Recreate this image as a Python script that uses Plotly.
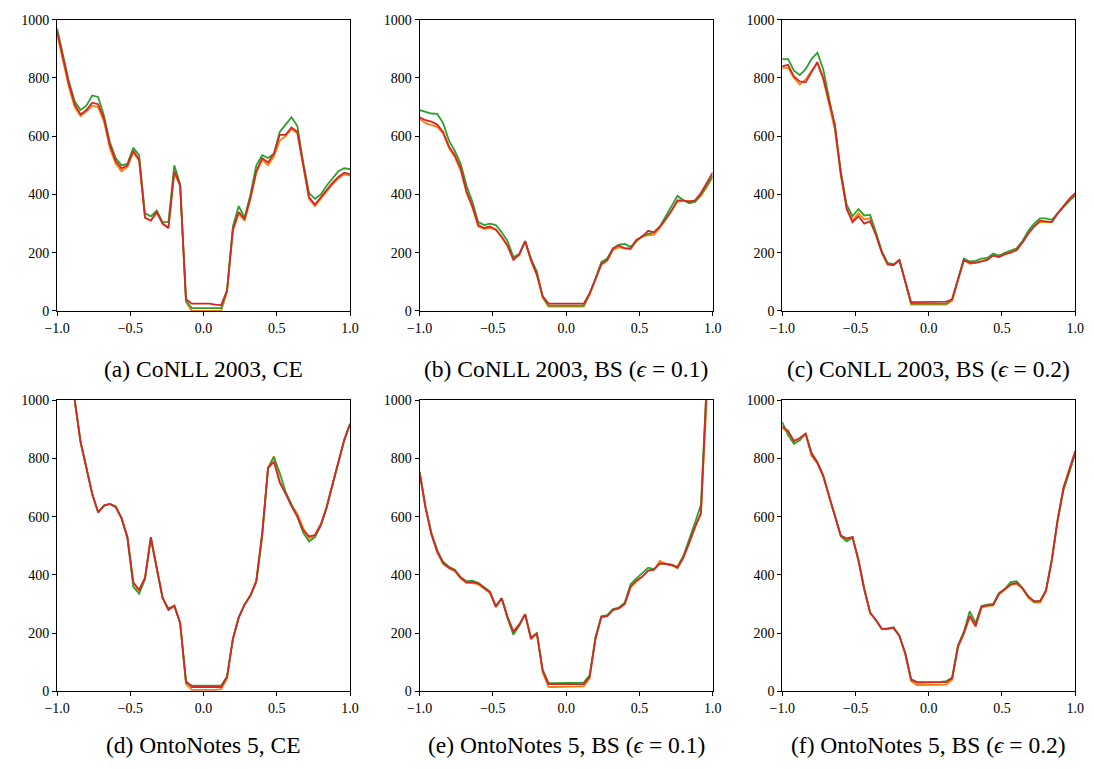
import plotly.graph_objects as go

x_vals = [round(-1 + 0.04 * i, 2) for i in range(51)]

# Panel (a) CoNLL 2003, CE
a_orange = [950, 860, 770, 700, 670, 685, 705, 700, 650, 560, 505, 480, 495, 545, 515, 320, 310, 338, 300, 285, 475, 430, 30, 0, 0, 0, 0, 0, 0, 65, 275, 335, 310, 385, 475, 520, 500, 530, 585, 600, 625, 610, 495, 385, 360, 385, 410, 435, 455, 470, 465]
a_green = [970, 880, 790, 720, 690, 705, 740, 735, 670, 580, 525, 500, 505, 560, 535, 335, 325, 345, 305, 305, 500, 435, 35, 10, 10, 10, 10, 10, 10, 70, 290, 360, 320, 400, 500, 535, 525, 540, 615, 640, 665, 635, 510, 405, 385, 400, 430, 455, 480, 490, 487]
a_red = [960, 870, 780, 710, 675, 690, 715, 710, 660, 570, 515, 490, 500, 550, 520, 320, 310, 340, 300, 285, 480, 430, 40, 25, 25, 25, 25, 22, 20, 70, 280, 340, 315, 390, 480, 525, 510, 540, 605, 605, 630, 615, 500, 390, 365, 390, 415, 440, 460, 475, 470]

# Panel (b) CoNLL 2003, BS (eps = 0.1)
b_orange = [660, 645, 638, 632, 610, 560, 528, 482, 405, 355, 290, 282, 285, 278, 253, 222, 178, 192, 238, 172, 125, 45, 15, 15, 15, 15, 15, 15, 15, 55, 108, 160, 172, 210, 218, 215, 212, 240, 255, 260, 262, 285, 315, 345, 375, 378, 378, 375, 395, 425, 460]
b_green = [690, 685, 678, 677, 645, 585, 550, 505, 430, 375, 305, 295, 300, 295, 270, 240, 185, 195, 240, 180, 135, 50, 18, 18, 18, 18, 18, 18, 18, 60, 110, 168, 180, 215, 228, 230, 220, 240, 258, 265, 270, 290, 325, 360, 395, 380, 370, 375, 400, 430, 465]
b_red = [665, 655, 650, 640, 615, 565, 535, 490, 410, 360, 295, 285, 290, 280, 255, 225, 175, 195, 240, 175, 125, 50, 25, 25, 25, 25, 25, 25, 25, 60, 110, 160, 175, 215, 225, 215, 215, 245, 255, 275, 270, 290, 315, 345, 380, 380, 375, 380, 405, 440, 475]

# Panel (c) CoNLL 2003, BS (eps = 0.2)
c_orange = [835, 835, 800, 778, 795, 825, 850, 795, 710, 620, 465, 355, 310, 335, 315, 318, 262, 200, 160, 158, 175, 98, 22, 22, 22, 22, 22, 22, 22, 35, 108, 175, 162, 165, 170, 176, 192, 185, 195, 202, 208, 235, 268, 292, 305, 305, 305, 335, 358, 380, 400]
c_green = [865, 865, 825, 810, 830, 865, 887, 830, 730, 630, 480, 365, 325, 350, 328, 330, 270, 205, 165, 160, 175, 100, 25, 25, 25, 25, 25, 25, 25, 40, 110, 180, 170, 172, 180, 182, 197, 190, 200, 208, 215, 240, 275, 300, 318, 318, 313, 335, 358, 378, 395]
c_red = [840, 845, 805, 788, 785, 820, 855, 800, 720, 640, 470, 350, 305, 325, 300, 308, 260, 200, 160, 158, 175, 100, 30, 30, 30, 30, 30, 31, 32, 40, 110, 175, 165, 165, 170, 175, 190, 185, 195, 200, 210, 235, 265, 290, 310, 308, 305, 335, 360, 385, 405]

# Panel (d) OntoNotes 5, CE
d_orange = [1250, 1170, 1090, 1000, 857, 762, 678, 615, 638, 644, 633, 594, 530, 372, 345, 390, 530, 425, 322, 280, 294, 235, 25, 5, 5, 5, 5, 5, 8, 45, 180, 254, 298, 330, 380, 543, 768, 808, 722, 680, 640, 610, 560, 525, 535, 573, 633, 711, 784, 863, 919]
d_green = [1250, 1170, 1090, 1000, 857, 762, 678, 615, 638, 644, 636, 596, 525, 360, 335, 385, 525, 420, 320, 285, 294, 235, 30, 20, 20, 21, 20, 20, 20, 50, 180, 254, 298, 328, 375, 530, 765, 805, 750, 685, 640, 600, 545, 515, 530, 568, 630, 711, 784, 863, 919]
d_red = [1250, 1170, 1090, 1000, 857, 762, 678, 615, 638, 644, 633, 594, 530, 375, 349, 390, 530, 425, 322, 280, 294, 235, 35, 15, 15, 15, 15, 15, 15, 50, 180, 254, 298, 330, 380, 543, 768, 788, 717, 678, 636, 600, 554, 532, 537, 573, 633, 711, 784, 863, 919]

# Panel (e) OntoNotes 5, BS (eps = 0.1)
e_orange = [750, 630, 540, 478, 438, 423, 413, 388, 372, 372, 368, 353, 338, 290, 320, 255, 205, 228, 265, 180, 200, 65, 15, 15, 15, 15, 15, 15, 17, 45, 180, 255, 258, 280, 285, 300, 358, 378, 393, 415, 418, 448, 438, 433, 423, 458, 508, 563, 615, 960, 1400]
e_green = [755, 635, 545, 485, 445, 428, 418, 392, 378, 380, 373, 358, 343, 295, 320, 250, 195, 225, 265, 185, 200, 75, 28, 28, 28, 28, 28, 28, 30, 55, 185, 258, 262, 283, 288, 305, 368, 388, 405, 425, 420, 438, 438, 433, 428, 465, 520, 580, 640, 1000, 1500]
e_red = [750, 630, 540, 480, 440, 425, 415, 390, 375, 375, 370, 355, 340, 290, 320, 255, 205, 230, 265, 180, 200, 70, 25, 25, 25, 25, 25, 25, 25, 50, 180, 255, 258, 280, 285, 300, 360, 380, 395, 415, 418, 440, 438, 435, 425, 460, 510, 565, 610, 950, 1500]

# Panel (f) OntoNotes 5, BS (eps = 0.2)
f_orange = [905, 890, 860, 868, 885, 810, 783, 738, 668, 598, 535, 522, 530, 448, 350, 270, 245, 213, 215, 218, 190, 128, 35, 22, 22, 22, 22, 22, 23, 40, 152, 198, 255, 222, 288, 293, 295, 333, 348, 365, 370, 352, 322, 305, 305, 342, 448, 588, 698, 758, 820]
f_green = [925, 880, 850, 862, 885, 820, 788, 742, 672, 602, 532, 515, 528, 455, 355, 272, 245, 215, 216, 220, 192, 132, 42, 32, 32, 32, 32, 33, 35, 48, 158, 205, 275, 235, 293, 298, 300, 338, 352, 375, 378, 355, 327, 308, 310, 348, 452, 585, 690, 755, 815]
f_red = [910, 895, 860, 870, 885, 815, 785, 740, 670, 600, 535, 525, 530, 450, 350, 270, 245, 215, 215, 218, 190, 130, 40, 30, 30, 30, 30, 31, 32, 45, 155, 200, 260, 225, 290, 295, 297, 335, 350, 368, 372, 355, 325, 310, 310, 345, 450, 590, 700, 760, 825]

captions = [
    "(a) CoNLL 2003, CE",
    "(b) CoNLL 2003, BS (<i>ϵ</i> = 0.1)",
    "(c) CoNLL 2003, BS (<i>ϵ</i> = 0.2)",
    "(d) OntoNotes 5, CE",
    "(e) OntoNotes 5, BS (<i>ϵ</i> = 0.1)",
    "(f) OntoNotes 5, BS (<i>ϵ</i> = 0.2)",
]
panels = [
    (a_orange, a_green, a_red),
    (b_orange, b_green, b_red),
    (c_orange, c_green, c_red),
    (d_orange, d_green, d_red),
    (e_orange, e_green, e_red),
    (f_orange, f_green, f_red),
]
x_tickvals = [-1.0, -0.5, 0.0, 0.5, 1.0]
x_ticktext = ["−1.0", "−0.5", "0.0", "0.5", "1.0"]
y_tickvals = [0, 200, 400, 600, 800, 1000]
y_ticktext = ["0", "200", "400", "600", "800", "1000"]
colors = ["#ff7f0e", "#2ca02c", "#d62728"]

W, H = 1094, 769
xdoms_px = [(45, 344), (415, 714), (785, 1084)]
ydoms_px = [(13, 310), (401, 698)]
caption_y_px = [369, 753]

FONT = "Liberation Serif, Times New Roman, serif"

fig = go.Figure()
layout = dict(
    width=W, height=H, margin=dict(l=0, r=0, t=0, b=0),
    paper_bgcolor="white", plot_bgcolor="white", showlegend=False,
    font=dict(family=FONT, size=14, color="black"),
)
annotations = []
for i, series in enumerate(panels):
    r, c = divmod(i, 3)
    ax = "" if i == 0 else str(i + 1)
    for s, col in zip(series, colors):
        fig.add_trace(go.Scatter(x=x_vals, y=s, mode="lines",
                                 line=dict(color=col, width=1.8),
                                 xaxis="x" + ax, yaxis="y" + ax, hoverinfo="skip"))
    x0, x1 = xdoms_px[c]
    y0, y1 = ydoms_px[r]
    common = dict(showline=True, linecolor="black", linewidth=1, mirror=True,
                  ticks="outside", ticklen=4, tickwidth=1, tickcolor="black",
                  showgrid=False, zeroline=False, tickfont=dict(family=FONT, size=14))
    layout["xaxis" + ax] = dict(domain=[x0 / W, x1 / W], range=[-1, 1], anchor="y" + ax,
                                tickvals=x_tickvals, ticktext=x_ticktext, **common)
    layout["yaxis" + ax] = dict(domain=[1 - y1 / H, 1 - y0 / H], range=[0, 1000], anchor="x" + ax,
                                tickvals=y_tickvals, ticktext=y_ticktext, **common)
    annotations.append(dict(text=captions[i], x=(x0 + x1) / 2 / W, y=1 - caption_y_px[r] / H,
                            xref="paper", yref="paper", showarrow=False,
                            xanchor="center", yanchor="middle",
                            font=dict(family=FONT, size=23.5, color="black")))
layout["annotations"] = annotations
fig.update_layout(**layout)
fig.write_html("out.html")
